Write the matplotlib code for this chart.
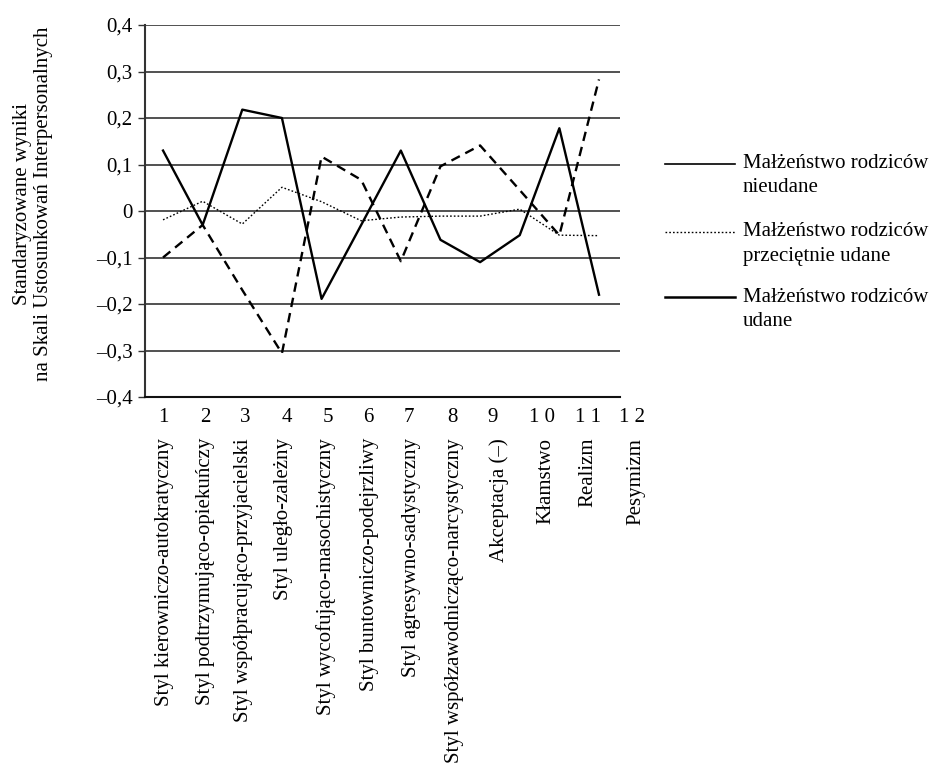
import matplotlib
matplotlib.use("Agg")
import matplotlib.pyplot as plt
from matplotlib.lines import Line2D

plt.rcParams['font.family'] = ['Liberation Serif', 'DejaVu Serif']

# data points 1..12
points = list(range(1, 13))
nieudane = [-0.10, -0.03, -0.17, -0.306, 0.117, 0.067, -0.108, 0.096, 0.141, 0.045, -0.052, 0.283]
przecietnie = [-0.019, 0.021, -0.028, 0.051, 0.02, -0.021, -0.013, -0.011, -0.011, 0.004, -0.052, -0.053]
udane = [0.13, -0.03, 0.218, 0.20, -0.189, -0.03, 0.13, -0.062, -0.11, -0.052, 0.178, -0.18]

# numbers and category names sit a bit wider apart than the data points in the original
numbers = ["1", "2", "3", "4", "5", "6", "7", "8", "9", "1 0", "1 1", "1 2"]
number_pos = [1.0, 2.06, 3.08, 4.12, 5.17, 6.18, 7.2, 8.29, 9.32, 10.56, 11.73, 12.83]
categories = [
    "Styl kierowniczo-autokratyczny",
    "Styl podtrzymująco-opiekuńczy",
    "Styl współpracująco-przyjacielski",
    "Styl uległo-zależny",
    "Styl wycofująco-masochistyczny",
    "Styl buntowniczo-podejrzliwy",
    "Styl agresywno-sadystyczny",
    "Styl współzawodnicząco-narcystyczny",
    "Akceptacja (–)",
    "Kłamstwo",
    "Realizm",
    "Pesymizm",
]
category_pos = [1.04, 2.06, 3.02, 4.05, 5.11, 6.2, 7.27, 8.35, 9.48, 10.66, 11.72, 12.94]
yticks = [-0.4, -0.3, -0.2, -0.1, 0, 0.1, 0.2, 0.3, 0.4]
ytick_labels = ["–0,4", "–0,3", "–0,2", "–0,1", "0", "0,1", "0,2", "0,3", "0,4"]

W, H = 935, 768
fig = plt.figure(figsize=(W / 100, H / 100), dpi=100)
ax = fig.add_axes([145 / W, 1 - 397 / H, (620 - 145) / W, (397 - 25) / H])

ax.set_xlim(0.545, 12.53)
ax.set_ylim(-0.4, 0.4)

# horizontal grid lines
for v in yticks[1:]:
    ax.axhline(v, color='#333333', lw=1.2, zorder=1)

ax.plot(points, nieudane, color='black', lw=1.7, linestyle=(0, (4, 2.6)), zorder=3)
ax.plot(points, przecietnie, color='black', lw=1.0, linestyle=(0, (1.2, 1.5)), zorder=3)
ax.plot(points, udane, color='black', lw=1.7, zorder=3)

for s in ['top', 'right']:
    ax.spines[s].set_visible(False)
ax.spines['left'].set_color('#333333')
ax.spines['left'].set_linewidth(1.5)
ax.spines['bottom'].set_color('#111111')
ax.spines['bottom'].set_linewidth(1.5)

ax.set_yticks(yticks)
ax.set_yticklabels(ytick_labels, fontsize=15)
ax.tick_params(axis='y', length=5, width=1, color='#333333', pad=4)
ax.set_xticks([])

tr = ax.get_xaxis_transform()
for p, n in zip(number_pos, numbers):
    ax.text(p, -0.056, n, transform=tr, ha='center', va='center', fontsize=15, clip_on=False)
for p, c in zip(category_pos, categories):
    ax.text(p, -0.11, c, transform=tr, ha='center', va='top', rotation=90,
            fontsize=15, clip_on=False)

fig.text(33 / W, 1 - 204 / H,
         "Standaryzowane wyniki\nna Skali Ustosunkowań Interpersonalnych",
         rotation=90, ha='center', va='center', multialignment='center', fontsize=15)

# legend drawn by hand (first entry uses a plain line as in the original)
legend_rows = [
    (164, dict(color='black', lw=1.2), "Małżeństwo rodziców", "nieudane"),
    (232, dict(color='black', lw=1.0, linestyle=(0, (1.2, 1.5))), "Małżeństwo rodziców", "przeciętnie udane"),
    (297, dict(color='black', lw=1.8), "Małżeństwo rodziców", "udane"),
]
for y, style, l1, l2 in legend_rows:
    fig.add_artist(Line2D([665 / W, 735 / W], [1 - y / H] * 2, transform=fig.transFigure, **style))
    fig.text(743 / W, 1 - y / H, l1, ha='left', va='center', fontsize=15)
    fig.text(743 / W, 1 - (y + 24) / H, l2, ha='left', va='center', fontsize=15)

fig.savefig("out.png", dpi=100, facecolor='white')
